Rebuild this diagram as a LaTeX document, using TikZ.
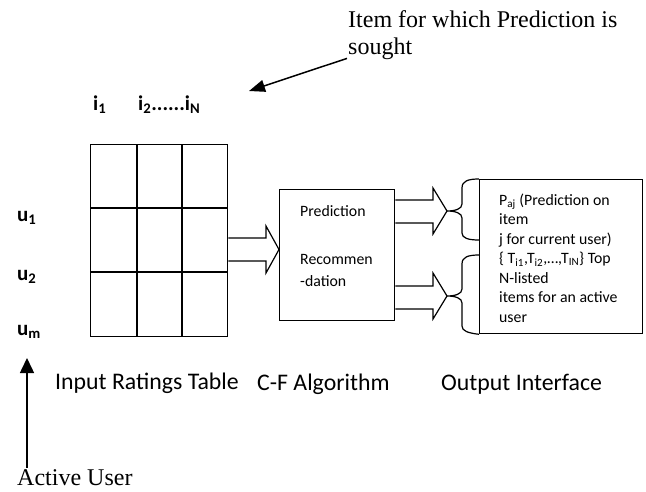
\documentclass[tikz,border=0pt]{standalone}
\usepackage{fontspec}
\setmainfont{Liberation Serif}
\newfontfamily\calibrifont{Carlito}
\usetikzlibrary{arrows.meta,calc}

\begin{document}
\begin{tikzpicture}[x=1pt,y=-1pt,
  lw/.style={line width=1.3pt},
  serifbig/.style={font=\fontsize{24}{28}\selectfont, anchor=base west, inner sep=0},
  caption/.style={font=\calibrifont\fontsize{23.8}{28}\selectfont, anchor=base west, inner sep=0},
  idx/.style={font=\calibrifont\bfseries\fontsize{21}{25}\selectfont, anchor=base west, inner sep=0},
  small/.style={font=\calibrifont\fontsize{15.8}{19.5}\selectfont, anchor=base west, inner sep=0},
  blockarrow/.style={draw, line width=1.2pt, line join=miter, fill=white},
  brace/.style={draw, line width=1.2pt},
  pointer/.style={line width=1.5pt, -{Triangle[length=16pt,width=12pt]}},
]
\useasboundingbox (0,0) rectangle (646,491);

% ratings table
\node[draw, lw, minimum width=137pt, minimum height=192pt, inner sep=0, anchor=north west] (grid) at (90,144) {};
\draw[lw] ($(grid.north west)+(47,0)$) -- ($(grid.south west)+(47,0)$);
\draw[lw] ($(grid.north west)+(92,0)$) -- ($(grid.south west)+(92,0)$);
\draw[lw] ($(grid.north west)+(0,64)$) -- ($(grid.north east)+(0,64)$);
\draw[lw] ($(grid.north west)+(0,128)$) -- ($(grid.north east)+(0,128)$);

% item and user indices
\node[idx] (i1) at (93,110) {i\textsubscript{1}};
\node[idx] (iN) at (138,110) {i\textsubscript{2}......i\textsubscript{N}};
\node[idx] (u1) at (17,221) {u\textsubscript{1}};
\node[idx] (u2) at (17,280) {u\textsubscript{2}};
\node[idx] (um) at (17,335) {u\textsubscript{m}};

% C-F algorithm box
\node[draw, lw, minimum width=115pt, minimum height=131pt, inner sep=0, anchor=north west] (cf) at (279,189) {};
\node[small] (pred) at (300,216) {Prediction};
\node[small] (rec) at (300,264) {\renewcommand{\arraystretch}{1.128}\begin{tabular}[t]{@{}l@{}}Recommen\\-dation\end{tabular}};

% output interface box
\node[draw, lw, minimum width=163pt, minimum height=154pt, inner sep=0, anchor=north west] (out) at (479,179) {};
\node[small] (outtxt) at (499,205) {\begin{tabular}[t]{@{}l@{}}
P\textsubscript{aj} (Prediction on\\
item\\
j for current user)\\
\{ T\textsubscript{i1},T\textsubscript{i2},\ldots,T\textsubscript{IN}\} Top\\
N-listed\\
items for an active\\
user\end{tabular}};

% braces on the left side of the output box
\coordinate (tipA) at (447,211);
\coordinate (tipB) at (447,296);
\path[brace] (out.north west) .. controls (468,179) and (462,181) .. (462,188)
  -- (462,204) .. controls (462,209) and (455,211) .. (tipA)
  .. controls (455,211) and (462,213) .. (462,218)
  -- (462,233) .. controls (462,238) and (468,240) .. (479,240);
\path[brace] (479,255) .. controls (468,255) and (462,257) .. (462,264)
  -- (462,289) .. controls (462,294) and (455,296) .. (tipB)
  .. controls (455,296) and (462,298) .. (462,303)
  -- (462,326) .. controls (462,331) and (468,333) .. (out.south west);

% block arrows
\path[blockarrow] (grid.east |- 0,238) -- (266,238) -- (266,226) -- (cf.west |- 0,249.5)
  -- (266,273) -- (266,261) -- (grid.east |- 0,261);
\path[blockarrow] (cf.east |- 0,200) -- (433,200) -- (433,188) -- (tipA)
  -- (433,234) -- (433,223) -- (cf.east |- 0,223);
\path[blockarrow] (cf.east |- 0,286) -- (433,286) -- (433,273) -- (tipB)
  -- (433,319) -- (433,309) -- (cf.east |- 0,309);

% captions
\node[caption] (capA) at (55,389) {Input Ratings Table};
\node[caption] (capB) at (257,390) {C-F Algorithm};
\node[caption] (capC) at (441,390) {Output Interface};

% annotations
\node[serifbig] (goal1) at (348,27) {Item for which Prediction is};
\node[serifbig] (goal2) at (348,54) {sought};
\coordinate (goalTip) at (249,91);
\draw[pointer] ($(goal2.south west)+(-1,-1)$) -- (goalTip);

\node[serifbig] (au) at (17,485) {Active User};
\coordinate (auTip) at (27,358);
\draw[line width=1.5pt, -{Triangle[length=15pt,width=14pt]}] ($(au.north west)+(10,-1)$) -- (auTip);
\end{tikzpicture}
\end{document}
